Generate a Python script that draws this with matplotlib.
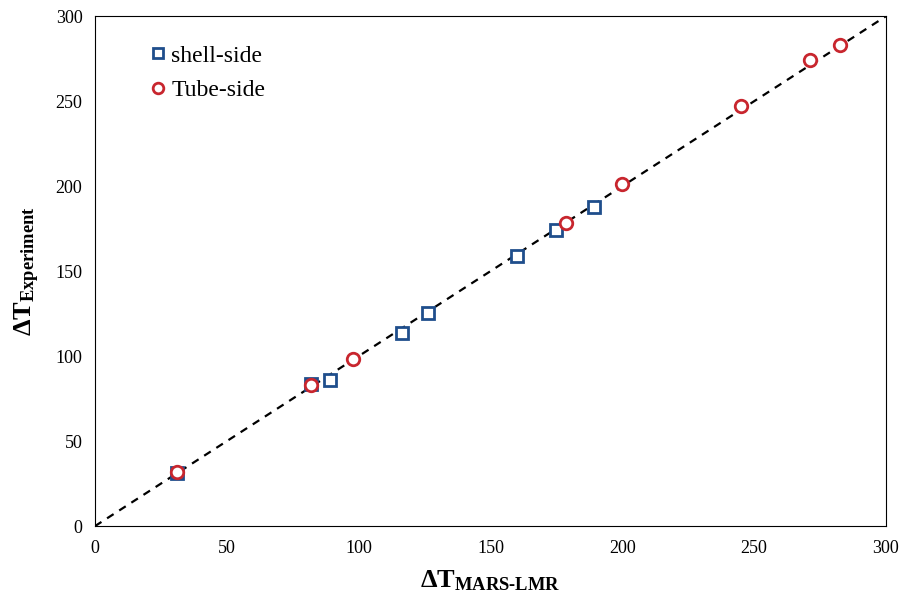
import numpy as np
import matplotlib.pyplot as plt

plt.rcParams["font.family"] = ["Liberation Serif", "DejaVu Serif"]
plt.rcParams["mathtext.fontset"] = "custom"
plt.rcParams["mathtext.rm"] = "Liberation Serif"
plt.rcParams["mathtext.bf"] = "Liberation Serif:bold"
plt.rcParams["mathtext.it"] = "Liberation Serif:italic"

shell_x = [31.1, 81.9, 89.1, 116.4, 126.3, 160.0, 174.8, 189.2]
shell_y = [31.2, 83.5, 85.9, 113.5, 125.3, 158.8, 174.1, 187.6]
tube_x = [31.1, 81.9, 97.8, 178.6, 199.8, 245.0, 271.1, 282.5]
tube_y = [31.8, 82.9, 98.2, 178.2, 201.2, 247.1, 274.1, 282.9]
ticks = [0, 50, 100, 150, 200, 250, 300]

fig = plt.figure(figsize=(9.04, 6.02), dpi=100)
ax = fig.add_axes([0.105, 0.126, 0.875, 0.847])

ax.plot([0, 300], [0, 300], color="black", lw=1.6, ls=(0, (3.5, 3)), zorder=1)
ax.plot(shell_x, shell_y, "s", ms=9, mfc="white", mec="#1f4e8c", mew=2.0,
        ls="none", label="shell-side", zorder=2)
ax.plot(tube_x, tube_y, "o", ms=9, mfc="white", mec="#c8262e", mew=2.0,
        ls="none", label="Tube-side", zorder=3)

ax.set_xlim(0, 300)
ax.set_ylim(0, 300)
ax.set_xticks(ticks)
ax.set_yticks(ticks)
ax.tick_params(axis="x", length=0, pad=10, labelsize=13)
ax.tick_params(axis="y", length=0, pad=9, labelsize=13)
for s in ax.spines.values():
    s.set_linewidth(0.8)

ax.set_xlabel(r"$\mathbf{\Delta T_{MARS‐LMR}}$", fontsize=19, labelpad=8)
ax.set_ylabel(r"$\mathbf{\Delta T_{Experiment}}$", fontsize=19, labelpad=10)

ax.legend(loc="upper left", bbox_to_anchor=(0.04, 0.985), frameon=False,
          fontsize=17, handletextpad=0.1, handlelength=0.9,
          labelspacing=0.55, markerscale=0.85)

fig.savefig("out.png", dpi=100)
